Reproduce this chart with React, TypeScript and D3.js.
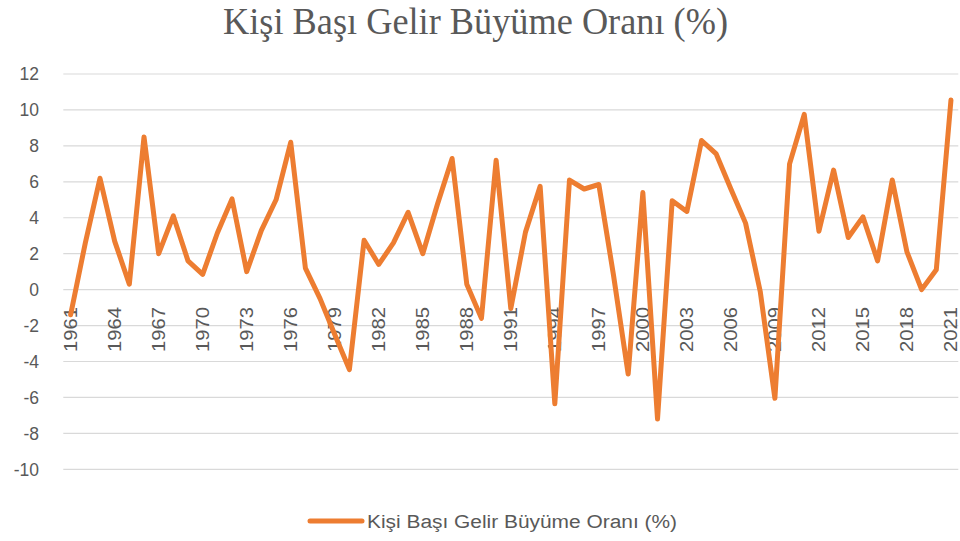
import React from "react";
import * as d3 from "d3";

const years: string[] = [
  "1961","1962","1963","1964","1965","1966","1967","1968","1969","1970",
  "1971","1972","1973","1974","1975","1976","1977","1978","1979","1980",
  "1981","1982","1983","1984","1985","1986","1987","1988","1989","1990",
  "1991","1992","1993","1994","1995","1996","1997","1998","1999","2000",
  "2001","2002","2003","2004","2005","2006","2007","2008","2009","2010",
  "2011","2012","2013","2014","2015","2016","2017","2018","2019","2020","2021",
];

const growth: number[] = [
  -1.4, 2.6, 6.2, 2.7, 0.3, 8.5, 2.0, 4.1, 1.6, 0.85,
  3.15, 5.05, 1.0, 3.3, 5.0, 8.2, 1.2, -0.5, -2.5, -4.45,
  2.75, 1.4, 2.6, 4.3, 2.0, 4.75, 7.3, 0.3, -1.6, 7.2,
  -1.05, 3.2, 5.75, -6.35, 6.1, 5.6, 5.85, 0.8, -4.7, 5.4,
  -7.2, 4.95, 4.35, 8.3, 7.55, 5.6, 3.7, -0.1, -6.05, 7.0,
  9.75, 3.25, 6.65, 2.9, 4.05, 1.6, 6.1, 2.1, 0.0, 1.1, 10.55,
];

const yTicks: number[] = [-10, -8, -6, -4, -2, 0, 2, 4, 6, 8, 10, 12];
const xTickLabels: string[] = [
  "1961","1964","1967","1970","1973","1976","1979","1982","1985","1988","1991",
  "1994","1997","2000","2003","2006","2009","2012","2015","2018","2021",
];

const title = "Kişi Başı Gelir Büyüme Oranı (%)";
const seriesName = "Kişi Başı Gelir Büyüme Oranı (%)";

const W = 960;
const H = 541;
const left = 63.3;
const right = 958.3;
const top = 74;
const bottom = 469.3;
const lineColor = "#ED7D31";
const textColor = "#595959";
const gridColor = "#d9d9d9";

export default function App() {
  const x = d3.scaleBand<string>().domain(years).range([left, right]);
  const y = d3.scaleLinear().domain([-10, 12]).range([bottom, top]);
  const cx = (yr: string) => (x(yr) as number) + x.bandwidth() / 2;

  const line = d3
    .line<number>()
    .x((_, i) => cx(years[i]))
    .y((d) => y(d));

  return (
    <svg
      width={W}
      height={H}
      style={{ position: "absolute", left: 0, top: 0, display: "block", background: "#fff" }}
    >
      <rect x={0} y={0} width={W} height={H} fill="#fff" />
      <text
        x={475.5}
        y={33.5}
        textAnchor="middle"
        fontFamily="'Liberation Serif', 'Times New Roman', serif"
        fontSize={37}
        fill={textColor}
        textLength={505}
        lengthAdjust="spacingAndGlyphs"
      >
        {title}
      </text>

      {yTicks.map((t) => (
        <g key={t}>
          <line x1={left} x2={right} y1={y(t)} y2={y(t)} stroke={gridColor} strokeWidth={1.2} />
          <text
            x={39}
            y={y(t)}
            dy="0.36em"
            textAnchor="end"
            fontFamily="'Liberation Sans', Arial, sans-serif"
            fontSize={17.5}
            fill={textColor}
          >
            {t}
          </text>
        </g>
      ))}

      {xTickLabels.map((yr) => (
        <text
          key={yr}
          transform={`translate(${cx(yr)},${307}) rotate(-90)`}
          dy="0.33em"
          textAnchor="end"
          fontFamily="'Liberation Sans', Arial, sans-serif"
          fontSize={18}
          fill={textColor}
          textLength={45}
          lengthAdjust="spacingAndGlyphs"
        >
          {yr}
        </text>
      ))}

      <path
        d={line(growth) || ""}
        fill="none"
        stroke={lineColor}
        strokeWidth={5}
        strokeLinejoin="round"
        strokeLinecap="round"
      />

      <line x1={310} x2={362} y1={521} y2={521} stroke={lineColor} strokeWidth={5} strokeLinecap="round" />
      <text
        x={367}
        y={528}
        fontFamily="'Liberation Sans', Arial, sans-serif"
        fontSize={18}
        fill={textColor}
        textLength={310}
        lengthAdjust="spacingAndGlyphs"
      >
        {seriesName}
      </text>
    </svg>
  );
}
